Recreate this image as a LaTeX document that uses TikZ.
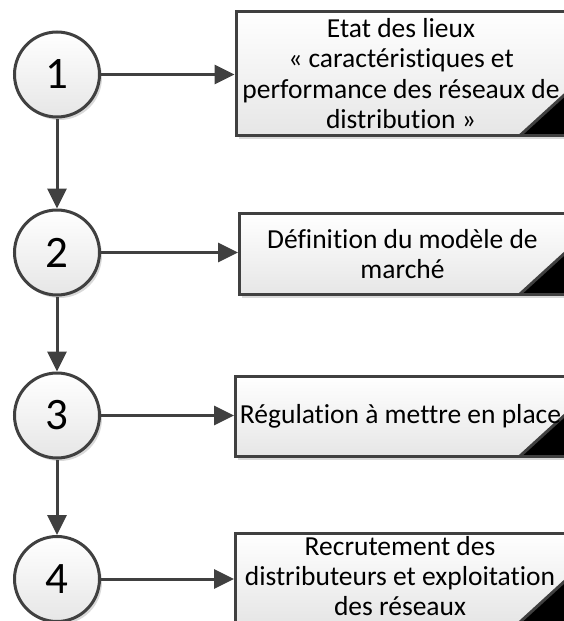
\documentclass[tikz,border=0pt]{standalone}
\usepackage{fontspec}
\setmainfont{Carlito}[Ligatures=NoCommon]
\usetikzlibrary{arrows.meta,shadows}

\definecolor{edge}{HTML}{404040}
\definecolor{fillbot}{HTML}{E6E6E6}

\tikzset{
  softshadow/.style={drop shadow={shadow xshift=2.5pt, shadow yshift=-3pt, opacity=0.15, fill=black}},
  stepcircle/.style={circle, draw=edge, line width=3pt, minimum size=85pt, inner sep=0pt,
    top color=white, bottom color=fillbot, softshadow,
    font=\fontsize{45}{45}\selectfont},
  stepbox/.style={rectangle, draw=edge, line width=3pt, inner sep=0pt,
    top color=white, bottom color=fillbot, softshadow, align=center,
    font=\fontsize{27.5}{30.5}\selectfont,
    path picture={
      \fill[black] (path picture bounding box.south east) ++(-46pt,0pt) -- ++(46pt,0pt) -- ++(0pt,42pt) -- cycle;
      \draw[edge, line width=3pt] (path picture bounding box.south east) ++(-46pt,0pt) -- ++(46pt,42pt);
    }},
  flow/.style={draw=edge, line width=3pt, -{Triangle[length=20pt,width=19pt]}},
}

\begin{document}
\begin{tikzpicture}[x=1pt,y=-1pt]
  \clip (0,0) rectangle (564,621);

  % numbered steps
  \node[stepcircle] (c1) at (57,74.5) {1};
  \node[stepcircle] (c2) at (57,252.5) {2};
  \node[stepcircle] (c3) at (57,415.5) {3};
  \node[stepcircle] (c4) at (57,579) {4};

  % step descriptions
  \node[stepbox, minimum width=330pt, minimum height=124pt] (b1) at (401,73.5)
    {Etat des lieux\\« caractéristiques et\\performance des réseaux de\\distribution »};
  \node[stepbox, minimum width=326pt, minimum height=81pt] (b2) at (402.5,254)
    {Définition du modèle de\\marché};
  \node[stepbox, minimum width=330pt, minimum height=80pt] (b3) at (400.5,416.5)
    {Régulation à mettre en place};
  \node[stepbox, minimum width=330pt, minimum height=89pt] (b4) at (400.5,578)
    {};
  \node[align=center, font=\fontsize{27.5}{30}\selectfont, inner sep=0pt] (t4) at (400,576)
    {Recrutement des\\distributeurs et exploitation\\des réseaux};

  % sequence
  \draw[flow] (c1) -- (c2);
  \draw[flow] (c2) -- (c3);
  \draw[flow] (c3) -- (c4);

  % step to description
  \draw[flow] (c1) -- (c1 -| b1.west);
  \draw[flow] (c2) -- (c2 -| b2.west);
  \draw[flow] (c3) -- (c3 -| b3.west);
  \draw[flow] (c4) -- (c4 -| b4.west);
\end{tikzpicture}
\end{document}
